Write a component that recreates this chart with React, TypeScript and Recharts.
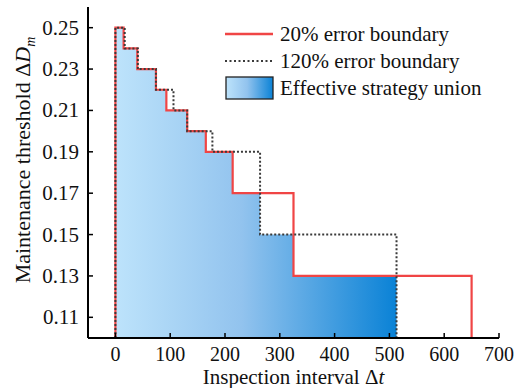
import React from 'react'
import { ComposedChart, Line, Area, XAxis, YAxis } from 'recharts'

// step corners (x = inspection interval, y = threshold)
const redX = [0, 0, 15, 40, 74, 93, 131, 165, 214, 325, 650]
const redY = [0.1, 0.25, 0.24, 0.23, 0.22, 0.21, 0.2, 0.19, 0.17, 0.13, 0.1]

const dotX = [0, 0, 17, 41, 74, 106, 131, 177, 264, 513]
const dotY = [0.1, 0.25, 0.24, 0.23, 0.22, 0.21, 0.2, 0.19, 0.15, 0.1]

const unionX = [0, 15, 40, 74, 93, 131, 165, 214, 264, 325, 513]
const unionY = [0.25, 0.24, 0.23, 0.22, 0.21, 0.2, 0.19, 0.17, 0.15, 0.13, 0.13]

const xTicks = [0, 100, 200, 300, 400, 500, 600, 700]
const yTicks = [0.11, 0.13, 0.15, 0.17, 0.19, 0.21, 0.23, 0.25]

const legendLabels = ['20% error boundary', '120% error boundary', 'Effective strategy union']

const FONT = 'Liberation Serif'
const RED = '#f04545'
const DOT = '#3a3a3a'

const toPts = (xs: number[], ys: number[]) => xs.map((x, i) => ({ x, y: ys[i] }))

function BottomTick(props: any) {
  const { x, y, payload } = props
  const axisY = y - 8
  return (
    <g>
      <line x1={x} y1={axisY} x2={x} y2={axisY - 5} stroke="#000" strokeWidth={1.5} />
      <text x={x} y={axisY + 23} textAnchor="middle" fontFamily={FONT} fontSize={20} fill="#111">
        {payload.value}
      </text>
    </g>
  )
}

function LeftTick(props: any) {
  const { x, y, payload } = props
  const axisX = x + 8
  return (
    <g>
      <line x1={axisX} y1={y} x2={axisX + 5} y2={y} stroke="#000" strokeWidth={1.5} />
      <text x={axisX - 9} y={y + 7} textAnchor="end" fontFamily={FONT} fontSize={21} fill="#111">
        {Number(payload.value).toFixed(2)}
      </text>
    </g>
  )
}

export default function App() {
  return (
    <div style={{ position: 'absolute', left: 0, top: 0, width: 524, height: 388, background: '#fff' }}>
      <ComposedChart width={524} height={388} margin={{ top: 7, right: 25, left: 0, bottom: 0 }}>
        <defs>
          <linearGradient id="unionGrad" x1="0" y1="0" x2="1" y2="0">
            <stop offset="0%" stopColor="#bde3fb" />
            <stop offset="45%" stopColor="#92c3ee" />
            <stop offset="100%" stopColor="#0a82d6" />
          </linearGradient>
        </defs>
        <XAxis
          type="number"
          dataKey="x"
          domain={[-50, 700]}
          ticks={xTicks}
          height={50}
          tickLine={false}
          axisLine={{ stroke: '#000', strokeWidth: 2 }}
          tick={<BottomTick />}
        />
        <XAxis
          xAxisId="top"
          type="number"
          dataKey="x"
          orientation="top"
          mirror
          height={0}
          domain={[-50, 700]}
          ticks={xTicks}
          tick={false}
          tickSize={5}
          tickLine={{ stroke: '#000', strokeWidth: 1.5 }}
          axisLine={{ stroke: '#000', strokeWidth: 2 }}
        />
        <YAxis
          type="number"
          domain={[0.1, 0.26]}
          ticks={yTicks}
          width={88}
          tickLine={false}
          axisLine={{ stroke: '#000', strokeWidth: 2 }}
          tick={<LeftTick />}
        />
        <YAxis
          yAxisId="right"
          orientation="right"
          mirror
          width={0}
          domain={[0.1, 0.26]}
          ticks={yTicks}
          tick={false}
          tickSize={5}
          tickLine={{ stroke: '#000', strokeWidth: 1.5 }}
          axisLine={{ stroke: '#000', strokeWidth: 2 }}
        />
        <Area
          data={toPts(unionX, unionY)}
          dataKey="y"
          type="stepAfter"
          stroke="none"
          fill="url(#unionGrad)"
          fillOpacity={1}
          isAnimationActive={false}
        />
        <Line
          data={toPts(redX, redY)}
          dataKey="y"
          type="stepAfter"
          stroke={RED}
          strokeWidth={2.2}
          dot={false}
          isAnimationActive={false}
        />
        <Line
          data={toPts(dotX, dotY)}
          dataKey="y"
          type="stepAfter"
          stroke={DOT}
          strokeWidth={2}
          strokeDasharray="2 2"
          dot={false}
          isAnimationActive={false}
        />
        <text
          x={30}
          y={160}
          transform="rotate(-90 30 160)"
          textAnchor="middle"
          fontFamily={FONT}
          fontSize={22}
          fill="#111"
        >
          Maintenance threshold Δ<tspan fontStyle="italic">D</tspan>
          <tspan fontStyle="italic" fontSize={14} dy={5}>m</tspan>
        </text>
        <text x={293.5} y={384} textAnchor="middle" fontFamily={FONT} fontSize={21} fill="#111">
          Inspection interval Δ<tspan fontStyle="italic">t</tspan>
        </text>
        {/* legend */}
        <g fontFamily={FONT} fontSize={21} fill="#111">
          <line x1={225} y1={34} x2={273} y2={34} stroke={RED} strokeWidth={2.5} />
          <text x={280} y={41}>{legendLabels[0]}</text>
          <line x1={225} y1={61} x2={273} y2={61} stroke={DOT} strokeWidth={2} strokeDasharray="2 2.5" />
          <text x={280} y={68}>{legendLabels[1]}</text>
          <rect x={226} y={77} width={47} height={22} fill="url(#unionGrad)" stroke="#222" strokeWidth={1.3} />
          <text x={280} y={95}>{legendLabels[2]}</text>
        </g>
      </ComposedChart>
    </div>
  )
}
